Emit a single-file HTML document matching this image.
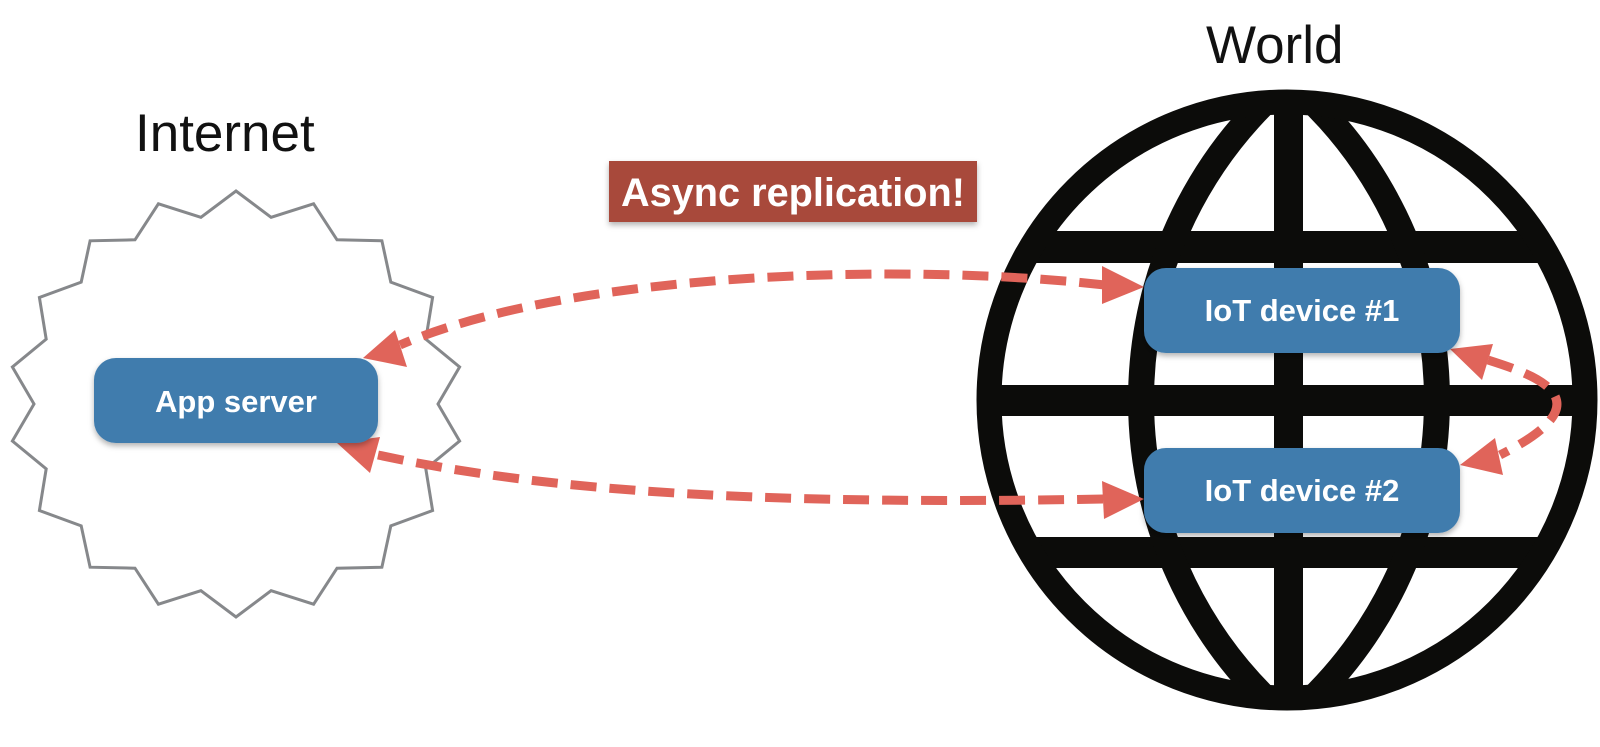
<!DOCTYPE html>
<html><head><meta charset="utf-8"><style>
html,body{margin:0;padding:0;background:#fff;}
svg{display:block;}
</style></head><body>
<svg width="1600" height="747" viewBox="0 0 1600 747" xmlns="http://www.w3.org/2000/svg">
<defs>
<clipPath id="gc"><circle cx="1287" cy="400" r="298"/></clipPath>
<filter id="sh" x="-10%" y="-10%" width="120%" height="130%"><feDropShadow dx="0" dy="3" stdDeviation="3" flood-color="#000" flood-opacity="0.3"/></filter>
</defs>
<polygon id="star" fill="#fff" stroke="#86888b" stroke-width="3" points=""/>
<text x="135" y="151" font-family="Liberation Sans, sans-serif" font-size="53" font-weight="300" fill="#111">Internet</text>
<text x="1206" y="63" font-family="Liberation Sans, sans-serif" font-size="53" font-weight="300" fill="#111">World</text>
<g clip-path="url(#gc)" fill="#0c0c0a">
<rect x="900" y="231" width="760" height="32"/>
<rect x="900" y="385" width="760" height="31"/>
<rect x="900" y="537" width="760" height="31"/>
<rect x="1274" y="60" width="29" height="700"/>
</g>
<g clip-path="url(#gc)" fill="none" stroke="#0c0c0a" stroke-width="26">
<path d="M1289 80 A 420 420 0 0 0 1289 720"/>
<path d="M1289 80 A 420 420 0 0 1 1289 720"/>
</g>
<circle cx="1287" cy="400" r="298" fill="none" stroke="#0c0c0a" stroke-width="25"/>
<rect x="609" y="161" width="368" height="61" fill="#a84a3b" filter="url(#sh)"/>
<text x="793" y="206" text-anchor="middle" font-family="Liberation Sans, sans-serif" font-size="40" font-weight="bold" fill="#fff" textLength="344" lengthAdjust="spacingAndGlyphs">Async replication!</text>
<g fill="none" stroke="#e0645a" stroke-width="9" stroke-dasharray="26 13">
<path d="M1105 285 C 900 262, 570 272, 400 345"/>
<path d="M378 455 C 530 488, 735 506, 1105 499"/>
<path d="M1488 360 C 1535 375, 1610 400, 1500 455"/>
</g>
<g fill="#e0645a">
<polygon points="1144,287 1102,266 1102,304"/>
<polygon points="363,358 395,330 407,367"/>
<polygon points="337,443 380,437 370,473"/>
<polygon points="1144,499 1102,481 1104,519"/>
<polygon points="1450,349 1493,344 1482,380"/>
<polygon points="1460,465 1495,438 1503,475"/>
</g>
<g filter="url(#sh)" fill="#3f7cad">
<rect x="94" y="358" width="284" height="85" rx="22"/>
<rect x="1144" y="268" width="316" height="85" rx="22"/>
<rect x="1144" y="448" width="316" height="85" rx="22"/>
</g>
<g font-family="Liberation Sans, sans-serif" font-size="31" font-weight="bold" fill="#fff" text-anchor="middle">
<text x="236" y="412">App server</text>
<text x="1302" y="321">IoT device #1</text>
<text x="1302" y="501">IoT device #2</text>
</g>
<script>
var n=18,cx=236,cy=404,rx=227,ry=213,p=[];
for(var i=0;i<2*n;i++){var a=-Math.PI/2+i*Math.PI/n;var k=i%2==0?1:0.89;p.push((cx+rx*k*Math.cos(a)).toFixed(1)+","+(cy+ry*k*Math.sin(a)).toFixed(1));}
document.getElementById("star").setAttribute("points",p.join(" "));
</script>
</svg>
</body></html>
